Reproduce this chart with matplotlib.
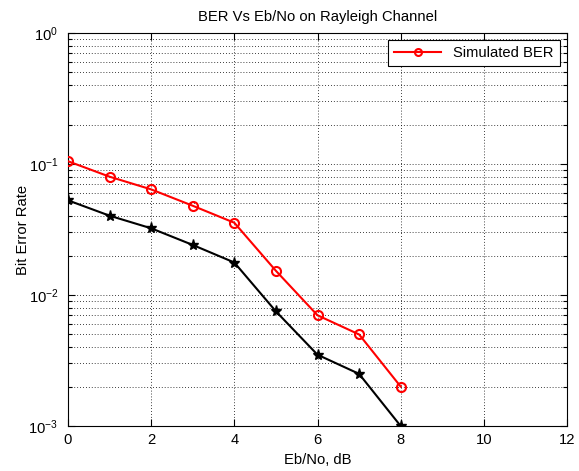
import matplotlib
matplotlib.use("Agg")
import matplotlib.pyplot as plt
from matplotlib.ticker import LogLocator, NullFormatter, FixedLocator

plt.rcParams['font.family'] = ['Liberation Sans', 'DejaVu Sans']
plt.rcParams['mathtext.fontset'] = 'custom'
plt.rcParams['mathtext.rm'] = 'Liberation Sans'
plt.rcParams['mathtext.it'] = 'Liberation Sans'

ebno = [0, 1, 2, 3, 4, 5, 6, 7, 8]
ber_sim = [0.105, 0.080, 0.064, 0.048, 0.0356, 0.0153, 0.0070, 0.0050, 0.0020]
ber_theory = [0.0528, 0.0403, 0.0323, 0.0241, 0.0177, 0.0075, 0.0035, 0.0025, 0.0010]
xticks = [0, 2, 4, 6, 8, 10, 12]

fs = 10.6
fig = plt.figure(figsize=(5.79, 4.71), dpi=100)
ax = fig.add_axes([68/579, 1-426/471, (567-68)/579, (426-33)/471])

ax.semilogy(ebno, ber_sim, color='red', marker='o', markersize=6.5,
            markerfacecolor='none', markeredgewidth=1.5, linewidth=1.5,
            label='Simulated BER', zorder=3)
ax.semilogy(ebno, ber_theory, color='black', marker='*', markersize=8,
            linewidth=1.5, zorder=3)

ax.set_xlim(0, 12)
ax.set_ylim(1e-3, 1e0)
ax.xaxis.set_major_locator(FixedLocator(xticks))
ax.yaxis.set_major_locator(LogLocator(base=10, numticks=10))
ax.yaxis.set_minor_locator(LogLocator(base=10, subs=range(2, 10), numticks=20))
ax.yaxis.set_minor_formatter(NullFormatter())

ax.tick_params(which='both', direction='in', top=True, right=True,
               labelsize=fs, width=0.8)
ax.tick_params(which='major', length=5)
ax.tick_params(which='minor', length=3)
ax.tick_params(axis='x', which='major', pad=5)
ax.tick_params(axis='y', which='major', pad=7)

ax.grid(True, which='major', axis='both', linestyle=(0, (1, 2.5)), color='black', linewidth=0.6)
ax.grid(True, which='minor', axis='y', linestyle=(0, (1, 2.5)), color='black', linewidth=0.6)

for s in ax.spines.values():
    s.set_linewidth(0.8)

ax.set_title('BER Vs Eb/No on Rayleigh Channel', fontsize=fs, pad=9)
ax.set_xlabel('Eb/No, dB', fontsize=fs, labelpad=4)
ax.set_ylabel('Bit Error Rate', fontsize=fs, labelpad=-1)

leg = ax.legend(loc='upper right', fontsize=fs, fancybox=False, framealpha=1,
                edgecolor='black', borderaxespad=0.5, handlelength=3.2)
leg.get_frame().set_linewidth(0.8)
for h in leg.legend_handles:
    h.set_markersize(5)

fig.savefig('out.png', dpi=100)
